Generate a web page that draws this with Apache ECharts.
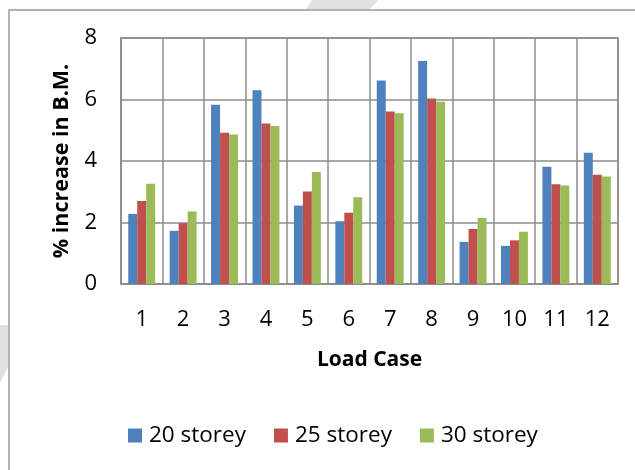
<!DOCTYPE html>
<html>
<head>
<meta charset="utf-8">
<script src="https://cdn.jsdelivr.net/npm/echarts@6/dist/echarts.min.js"></script>
<style>
  html, body { margin: 0; padding: 0; background: #fff; }
  #chart { width: 635px; height: 470px; }
</style>
</head>
<body>
<div id="chart"></div>
<script>
// load cases on the x axis
const loadCases = ['1', '2', '3', '4', '5', '6', '7', '8', '9', '10', '11', '12']
// % increase in bending moment
const storey20 = [2.28, 1.73, 5.83, 6.30, 2.55, 2.04, 6.62, 7.25, 1.37, 1.24, 3.81, 4.27]
const storey25 = [2.70, 1.98, 4.92, 5.22, 3.01, 2.32, 5.61, 6.03, 1.79, 1.42, 3.24, 3.55]
const storey30 = [3.26, 2.36, 4.86, 5.14, 3.64, 2.82, 5.55, 5.93, 2.15, 1.70, 3.20, 3.50]
const seriesNames = ['20 storey', '25 storey', '30 storey']

const font = '"Open Sans", Lato, sans-serif'
const gridGray = '#8c8c8c'

const chart = echarts.init(document.getElementById('chart'))

const option = {
  backgroundColor: '#fff',
  color: ['#4f81bd', '#c0504d', '#9bbb59'],
  textStyle: { fontFamily: font, color: '#000' },
  animation: false,
  // frame and watermark bits around the chart
  graphic: [
    {
      type: 'polygon',
      shape: { points: [[312, 0], [378, 0], [370, 9], [306, 9]] },
      style: { fill: '#e0e0e0' },
      silent: true
    },
    {
      type: 'polygon',
      shape: { points: [[0, 325], [8, 325], [8, 367], [0, 383]] },
      style: { fill: '#e0e0e0' },
      silent: true
    },
    {
      type: 'polyline',
      shape: { points: [[9, 470], [9, 10], [635, 10]] },
      style: { stroke: '#9a9a9a', lineWidth: 1.5, fill: null },
      silent: true
    }
  ],
  grid: {
    left: 121,
    right: 17,
    top: 38,
    bottom: 186,
    show: true,
    borderColor: gridGray,
    borderWidth: 1.5
  },
  legend: {
    data: seriesNames,
    left: 123,
    top: 419,
    icon: 'rect',
    itemWidth: 14,
    itemHeight: 14,
    itemGap: 28,
    textStyle: { fontSize: 22.5, fontFamily: font, color: '#000', padding: [0, 0, 0, 2] }
  },
  xAxis: {
    type: 'category',
    data: loadCases,
    name: 'Load Case',
    nameLocation: 'middle',
    nameGap: 66,
    nameTextStyle: { fontSize: 21, fontWeight: 'bold', fontFamily: font, color: '#000' },
    axisLine: { show: true, lineStyle: { color: gridGray, width: 1.5 } },
    axisTick: { show: false },
    axisLabel: { fontSize: 22, color: '#000', margin: 25, fontFamily: font },
    splitLine: { show: true, lineStyle: { color: gridGray, width: 1.5 } }
  },
  yAxis: {
    type: 'value',
    min: 0,
    max: 8,
    interval: 2,
    name: '% increase in B.M.',
    nameLocation: 'middle',
    nameGap: 48,
    nameTextStyle: { fontSize: 21.5, fontWeight: 'bold', fontFamily: font, color: '#000' },
    axisLine: { show: true, lineStyle: { color: gridGray, width: 1.5 } },
    axisTick: { show: false },
    axisLabel: { fontSize: 22, color: '#000', margin: 24, fontFamily: font },
    splitLine: { show: true, lineStyle: { color: gridGray, width: 1.5 } }
  },
  series: [
    { name: seriesNames[0], type: 'bar', data: storey20, barGap: '0%', barCategoryGap: '35%' },
    { name: seriesNames[1], type: 'bar', data: storey25, barGap: '0%', barCategoryGap: '35%' },
    { name: seriesNames[2], type: 'bar', data: storey30, barGap: '0%', barCategoryGap: '35%' }
  ]
}

chart.setOption(option)
</script>
</body>
</html>
